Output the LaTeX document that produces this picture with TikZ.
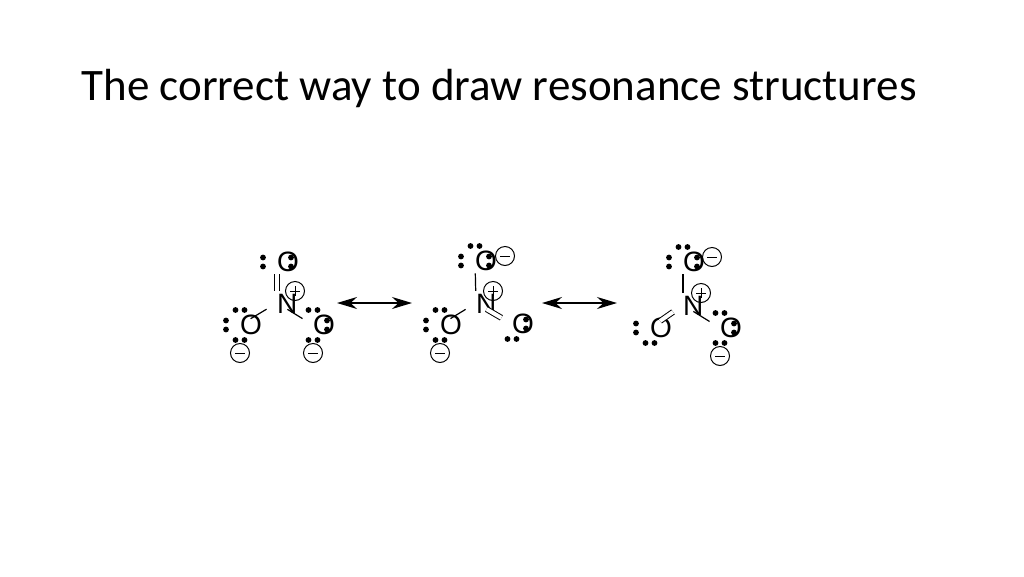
\documentclass[tikz,border=0pt]{standalone}
\usepackage{fontspec}
\setmainfont{Carlito}
\newfontfamily\atomfont{Liberation Sans}
\usetikzlibrary{arrows.meta}
\begin{document}
\begin{tikzpicture}[x=1pt,y=-1pt,
  atom/.style={circle,inner sep=0pt,minimum size=17pt,text height=20pt,text width=0pt,align=center,font=\atomfont\fontsize{28}{28}\selectfont},
  bond/.style={line width=1.2pt,shorten <=2pt,shorten >=2pt},
  dbond/.style={line width=1pt,double,double distance=4pt,shorten <=2pt,shorten >=2pt},
  resarrow/.style={line width=1.5pt,{Stealth[length=20pt,width=12pt]}-{Stealth[length=20pt,width=12pt]}},
  chg/.style={circle,draw,line width=1pt,minimum size=19pt,inner sep=0pt}]
\useasboundingbox (0,0) rectangle (1024,576);
\node[anchor=base west,font=\fontsize{45}{50}\selectfont] (title) at (78,100) {The correct way to draw resonance structures};
% lone pairs
\newcommand\lpv[2]{\fill (#1-0,#2-4.5) circle (2.9pt); \fill (#1,#2+4.5) circle (2.9pt);}
\newcommand\lph[2]{\fill (#1-4.5,#2) circle (2.9pt); \fill (#1+4.5,#2) circle (2.9pt);}
\newcommand\minus[3]{\node[chg] (#1) at (#2,#3) {}; \draw[line width=1pt] (#2-5,#3) -- (#2+5,#3);}
\newcommand\plus[3]{\node[chg] (#1) at (#2,#3) {}; \draw[line width=1pt] (#2-5,#3) -- (#2+5,#3) (#2,#3-5) -- (#2,#3+5);}
\tikzset{atomtext/.style={}}
% structure 1
\node[atom] (n1) at (277,303) {N};
\node[atom] (o1t) at (277,262) {O};
\node[atom] (o1l) at (240,325) {O};
\node[atom] (o1r) at (313,325) {O};
\draw[dbond] (n1) -- (o1t);
\draw[bond] (n1) -- (o1l);
\draw[bond] (n1) -- (o1r);
\plus{p1}{295}{291}
\minus{m1l}{240}{353}
\minus{m1r}{313}{353}
\lpv{263}{262}\lpv{291}{262}
\lpv{226}{325}\lph{240}{310}\lph{240}{340}
\lpv{327}{325}\lph{313}{310}\lph{313}{340}
% arrow 1
\coordinate (a1s) at (337,303); \coordinate (a1e) at (412,303);
\draw[resarrow] (a1s) -- (a1e);
% structure 2
\node[atom] (n2) at (476,303) {N};
\node[atom] (o2t) at (475,261) {O};
\node[atom] (o2l) at (440,325) {O};
\node[atom] (o2r) at (512,324) {O};
\draw[bond] (n2) -- (o2t);
\draw[bond] (n2) -- (o2l);
\draw[dbond] (n2) -- (o2r);
\plus{p2}{493}{291}
\minus{m2t}{505}{256}
\minus{m2l}{440}{353}
\lpv{461}{261}\lph{475}{246}\lpv{489}{261}
\lpv{426}{325}\lph{440}{310}\lph{440}{340}
\lpv{526}{324}\lph{512}{339}
% arrow 2
\coordinate (a2s) at (542,303); \coordinate (a2e) at (617,303);
\draw[resarrow] (a2s) -- (a2e);
% structure 3
\node[atom] (n3) at (683,305) {N};
\node[atom] (o3t) at (683,262) {O};
\node[atom] (o3l) at (650,328) {O};
\node[atom] (o3r) at (720,328) {O};
\draw[bond] (n3) -- (o3t);
\draw[dbond] (n3) -- (o3l);
\draw[bond] (n3) -- (o3r);
\plus{p3}{701}{293}
\minus{m3t}{712}{257}
\minus{m3r}{720}{356}
\lpv{669}{262}\lph{683}{247}\lpv{697}{262}
\lpv{636}{328}\lph{650}{343}
\lpv{734}{328}\lph{720}{313}\lph{720}{343}
\end{tikzpicture}
\end{document}
